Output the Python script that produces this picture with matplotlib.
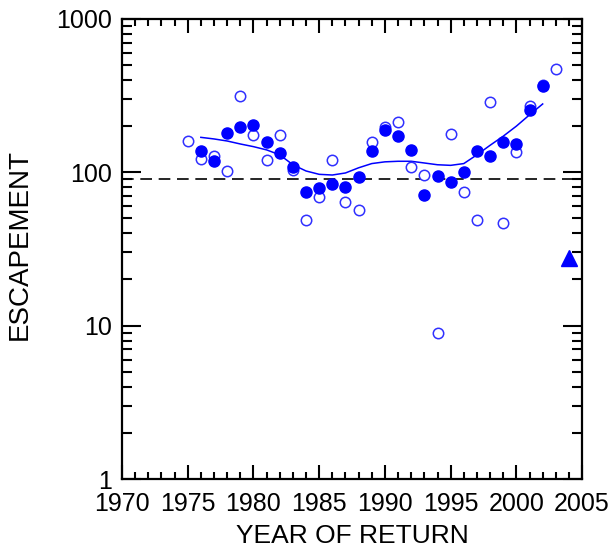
import numpy as np
import matplotlib.pyplot as plt
from matplotlib.ticker import FixedLocator, NullFormatter

plt.rcParams['font.family'] = ['Liberation Sans', 'DejaVu Sans']

# filled circles
filled_years = [1976, 1977, 1978, 1979, 1980, 1981, 1982, 1983, 1984, 1985,
                1986, 1987, 1988, 1989, 1990, 1991, 1992, 1993, 1994, 1995,
                1996, 1997, 1998, 1999, 2000, 2001, 2002]
filled_vals = [137, 118, 181, 196, 204, 157, 133, 109, 74, 79,
               84, 80, 93, 137, 189, 172, 139, 71, 94, 87,
               100, 137, 128, 157, 152, 255, 366]

# open circles
open_years = [1975, 1976, 1977, 1978, 1979, 1980, 1981, 1982, 1983, 1984,
              1985, 1986, 1987, 1988, 1989, 1990, 1991, 1992, 1993, 1994,
              1995, 1996, 1997, 1998, 1999, 2000, 2001, 2002, 2003]
open_vals = [159, 123, 128, 102, 315, 175, 120, 175, 103, 49,
             69, 120, 64, 57, 157, 198, 213, 108, 96, 9,
             177, 74, 49, 287, 47, 136, 272, 372, 472]

# smoothed trend
smooth_years = list(range(1976, 2003))
smooth_vals = [169, 165, 160, 153, 147, 140, 130, 112, 102, 97,
               96, 99, 107, 114, 117, 118, 118, 115, 112, 111,
               114, 130, 150, 172, 200, 237, 279]

tri_year = [2004]
tri_val = [27.5]

goal = 90

fig = plt.figure(figsize=(6.16, 5.57), dpi=100)
ax = fig.add_axes([0.198, 0.140, 0.747, 0.826])

ax.axhline(goal, color='black', lw=1.2, ls=(0, (7, 4)))
ax.plot(smooth_years, smooth_vals, color='#0000ff', lw=1.1)
ax.plot(open_years, open_vals, 'o', ms=7.5, mfc='white', mec='#3030ff', mew=1.1, ls='none')
ax.plot(filled_years, filled_vals, 'o', ms=8, color='#0000ff', ls='none')
ax.plot(tri_year, tri_val, '^', ms=11, color='#0000ff', ls='none')

ax.set_yscale('log')
ax.set_xlim(1970, 2005)
ax.set_ylim(1, 1000)

ax.set_xticks(np.arange(1970, 2006, 5))
ax.xaxis.set_minor_locator(FixedLocator(np.arange(1970, 2006, 1)))
ax.set_yticks([1, 10, 100, 1000])
ax.set_yticklabels(['1', '10', '100', '1000'])
minors = [m * 10 ** e for e in range(0, 3) for m in range(2, 10)]
ax.yaxis.set_minor_locator(FixedLocator(minors))
ax.yaxis.set_minor_formatter(NullFormatter())

ax.tick_params(which='both', direction='in', top=True, right=True,
               width=1.5, labelsize=18, color='black')
ax.tick_params(axis='x', which='major', length=10, pad=9)
ax.tick_params(axis='x', which='minor', length=5)
ax.tick_params(axis='y', which='major', length=14, pad=7)
ax.tick_params(axis='y', which='minor', length=7)

for s in ax.spines.values():
    s.set_linewidth(1.6)

ax.set_xlabel('YEAR OF RETURN', fontsize=19)
ax.set_ylabel('ESCAPEMENT', fontsize=20)
ax.xaxis.set_label_coords(0.5, -0.098)
ax.yaxis.set_label_coords(-0.193, 0.51)

fig.savefig('out.png', dpi=100)
